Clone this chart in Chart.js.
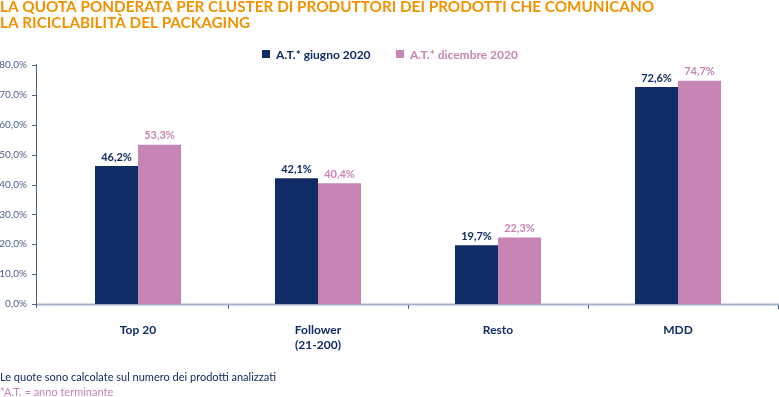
<!DOCTYPE html>
<html>
<head>
<meta charset="utf-8">
<script src="https://cdn.jsdelivr.net/npm/chart.js@4/dist/chart.umd.min.js"></script>
<style>
  html, body { margin: 0; padding: 0; background: #fff; }
  #wrap { width: 779px; height: 397px; position: relative; }
</style>
</head>
<body>
<div id="wrap"><canvas id="chart" width="779" height="397"></canvas></div>
<script>
// --- data ---
const categories = ['Top 20', ['Follower', '(21-200)'], 'Resto', 'MDD'];
const seriesNames = ['A.T.* giugno 2020', 'A.T.* dicembre 2020'];
const giugno2020 = [46.2, 42.1, 19.7, 72.6];
const dicembre2020 = [53.3, 40.4, 22.3, 74.7];
const yTicks = [0, 10, 20, 30, 40, 50, 60, 70, 80];

const titleLines = [
  'LA QUOTA PONDERATA PER CLUSTER DI PRODUTTORI DEI PRODOTTI CHE COMUNICANO',
  'LA RICICLABILITÀ DEL PACKAGING'
];
const noteLines = [
  'Le quote sono calcolate sul numero dei prodotti analizzati',
  '*A.T. = anno terminante'
];

// --- colours ---
const NAVY = '#102c64';
const PINK = '#c785b6';
const ORANGE = '#f39200';
const AXIS = '#4f5f8f';
const BASE = '#a9b3cc';
const FONT = "Lato, 'Open Sans', sans-serif";

const fmt = v => v.toFixed(1).replace('.', ',') + '%';

// draws title, legend, notes, axis lines and value labels
const decorations = {
  id: 'decorations',
  beforeDatasetsDraw(chart) {
    const { ctx, chartArea, scales } = chart;
    const y = scales.y;
    ctx.save();
    // base line
    ctx.strokeStyle = BASE;
    ctx.lineWidth = 2;
    ctx.beginPath();
    ctx.moveTo(36, y.getPixelForValue(0) + 0.5);
    ctx.lineTo(779, y.getPixelForValue(0) + 0.5);
    ctx.stroke();
    // y axis line + ticks
    ctx.strokeStyle = AXIS;
    ctx.lineWidth = 1;
    ctx.beginPath();
    ctx.moveTo(36.5, chartArea.top - 1);
    ctx.lineTo(36.5, y.getPixelForValue(0) + 4);
    yTicks.forEach(t => {
      const py = Math.round(y.getPixelForValue(t)) + 0.5;
      ctx.moveTo(32, py);
      ctx.lineTo(36.5, py);
    });
    // category separators
    const x = scales.x;
    const seps = [];
    for (let i = 0; i < categories.length - 1; i++) {
      seps.push((x.getPixelForValue(i) + x.getPixelForValue(i + 1)) / 2);
    }
    seps.push(778);
    seps.forEach(sx => {
      const px = Math.round(sx) + 0.5;
      ctx.moveTo(px, y.getPixelForValue(0) + 1);
      ctx.lineTo(px, y.getPixelForValue(0) + 5);
    });
    ctx.stroke();
    ctx.restore();
  },
  afterDatasetsDraw(chart) {
    const { ctx } = chart;
    ctx.save();
    // value labels
    ctx.font = 'bold 11px ' + FONT;
    ctx.textAlign = 'center';
    ctx.textBaseline = 'middle';
    chart.data.datasets.forEach((ds, i) => {
      const meta = chart.getDatasetMeta(i);
      meta.data.forEach((bar, j) => {
        ctx.fillStyle = ds.backgroundColor;
        ctx.fillText(fmt(ds.data[j]), bar.x, bar.y - 9);
      });
    });

    // title
    ctx.textAlign = 'left';
    ctx.fillStyle = ORANGE;
    ctx.font = 'bold 15.3px ' + FONT;
    ctx.fillText(titleLines[0], 0, 7);
    ctx.fillText(titleLines[1], 0, 23);

    // legend
    ctx.font = 'bold 12px ' + FONT;
    ctx.fillStyle = NAVY;
    ctx.fillRect(262, 50, 8, 8);
    ctx.fillText(seriesNames[0], 276, 55);
    ctx.fillStyle = PINK;
    ctx.fillRect(396, 50, 8, 8);
    ctx.fillText(seriesNames[1], 410, 55);

    // notes
    ctx.font = '11px ' + FONT;
    ctx.fillStyle = NAVY;
    ctx.fillText(noteLines[0], 0, 377);
    ctx.fillStyle = PINK;
    ctx.fillText(noteLines[1], 0, 392);
    ctx.restore();
  }
};

new Chart(document.getElementById('chart'), {
  type: 'bar',
  data: {
    labels: categories,
    datasets: [
      { label: seriesNames[0], data: giugno2020, backgroundColor: NAVY },
      { label: seriesNames[1], data: dicembre2020, backgroundColor: PINK }
    ]
  },
  options: {
    responsive: false,
    animation: false,
    layout: { padding: { top: 65, right: 11, left: 0, bottom: 0 } },
    datasets: {
      bar: { categoryPercentage: 0.478, barPercentage: 1, borderWidth: 0 }
    },
    plugins: {
      legend: { display: false },
      title: { display: false },
      tooltip: { enabled: false }
    },
    scales: {
      x: {
        grid: { display: false, drawTicks: false },
        border: { display: false },
        ticks: {
          color: NAVY,
          padding: 19,
          font: { family: FONT, size: 12, weight: 'bold', lineHeight: 1.25 }
        },
        afterFit(scale) { scale.height = 93; }
      },
      y: {
        min: 0,
        max: 80,
        grid: { display: false, drawTicks: false },
        border: { display: false },
        ticks: {
          stepSize: 10,
          padding: 21,
          color: AXIS,
          font: { family: FONT, size: 10 },
          callback: v => fmt(v)
        },
        afterFit(scale) { scale.width = 48; }
      }
    }
  },
  plugins: [decorations]
});
</script>
</body>
</html>
